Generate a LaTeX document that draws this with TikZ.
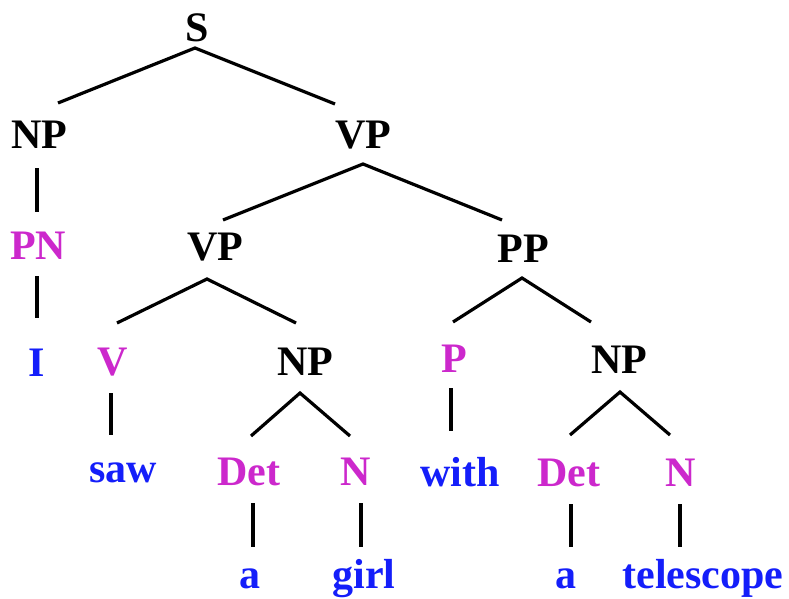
\documentclass[tikz,border=0pt]{standalone}
\usepackage{fontspec}
\setmainfont{Liberation Serif}
\definecolor{catcol}{RGB}{204,40,204}
\definecolor{wordcol}{RGB}{20,30,250}
\begin{document}
\begin{tikzpicture}[x=1pt,y=-1pt,
  lbl/.style={anchor=base,inner sep=0pt,font=\fontsize{42}{42}\selectfont\bfseries},
  phrase/.style={lbl,text=black},
  cat/.style={lbl,text=catcol},
  word/.style={lbl,text=wordcol},
  branch/.style={line width=3.2pt,black}]
\fill[white] (0,0) rectangle (789,599);
\useasboundingbox (0,0) rectangle (789,599);

% phrase and category labels
\node[phrase] (S)    at (197,42)  {S};
\node[phrase] (NPa)  at (39,148)  {NP};
\node[phrase] (VPa)  at (363,148) {VP};
\node[cat]    (PN)   at (38,259)  {PN};
\node[phrase] (VPb)  at (215,260) {VP};
\node[phrase] (PP)   at (523,262) {PP};
\node[word]   (I)    at (37,376)  {I};
\node[cat]    (V)    at (113,375) {V};
\node[phrase] (NPb)  at (305,375) {NP};
\node[cat]    (P)    at (454,372) {P};
\node[phrase] (NPc)  at (619,373) {NP};
\node[word]   (saw)  at (123,482) {saw};
\node[cat]    (Deta) at (249,485) {Det};
\node[cat]    (Na)   at (356,485) {N};
\node[word]   (with) at (460,486) {with};
\node[cat]    (Detb) at (569,486) {Det};
\node[cat]    (Nb)   at (681,486) {N};
\node[word]   (a1)   at (250,588) {a};
\node[word]   (girl) at (364,588) {girl};
\node[word]   (a2)   at (566,588) {a};
\node[word]   (tel)  at (703,588) {telescope};

% branch end points
\coordinate (S-b)    at (195,48);
\coordinate (NPa-t)  at (58,103);
\coordinate (VPa-t)  at (335,104);
\coordinate (NPa-b)  at (37,168);
\coordinate (PN-t)   at (37,212);
\coordinate (PN-b)   at (37,276);
\coordinate (I-t)    at (37,318);
\coordinate (VPa-b)  at (363,164);
\coordinate (VPb-t)  at (223,220);
\coordinate (PP-t)   at (502,220);
\coordinate (VPb-b)  at (207,279);
\coordinate (V-t)    at (117,323);
\coordinate (NPb-t)  at (296,323);
\coordinate (V-b)    at (111,393);
\coordinate (saw-t)  at (111,435);
\coordinate (NPb-b)  at (300,393);
\coordinate (Deta-t) at (251,436);
\coordinate (Na-t)   at (350,436);
\coordinate (Deta-b) at (253,503);
\coordinate (a1-t)   at (253,547);
\coordinate (Na-b)   at (361,503);
\coordinate (girl-t) at (361,547);
\coordinate (PP-b)   at (522,278);
\coordinate (P-t)    at (453,322);
\coordinate (NPc-t)  at (591,322);
\coordinate (P-b)    at (451,388);
\coordinate (with-t) at (451,431);
\coordinate (NPc-b)  at (620,392);
\coordinate (Detb-t) at (570,435);
\coordinate (Nb-t)   at (670,435);
\coordinate (Detb-b) at (571,504);
\coordinate (a2-t)   at (571,547);
\coordinate (Nb-b)   at (680,504);
\coordinate (tel-t)  at (680,547);

% branches
\draw[branch] (NPa-t) -- (S-b) -- (VPa-t);
\draw[branch] (NPa-b) -- (PN-t);
\draw[branch] (PN-b) -- (I-t);
\draw[branch] (VPb-t) -- (VPa-b) -- (PP-t);
\draw[branch] (V-t) -- (VPb-b) -- (NPb-t);
\draw[branch] (V-b) -- (saw-t);
\draw[branch] (Deta-t) -- (NPb-b) -- (Na-t);
\draw[branch] (Deta-b) -- (a1-t);
\draw[branch] (Na-b) -- (girl-t);
\draw[branch] (P-t) -- (PP-b) -- (NPc-t);
\draw[branch] (P-b) -- (with-t);
\draw[branch] (Detb-t) -- (NPc-b) -- (Nb-t);
\draw[branch] (Detb-b) -- (a2-t);
\draw[branch] (Nb-b) -- (tel-t);
\end{tikzpicture}
\end{document}
